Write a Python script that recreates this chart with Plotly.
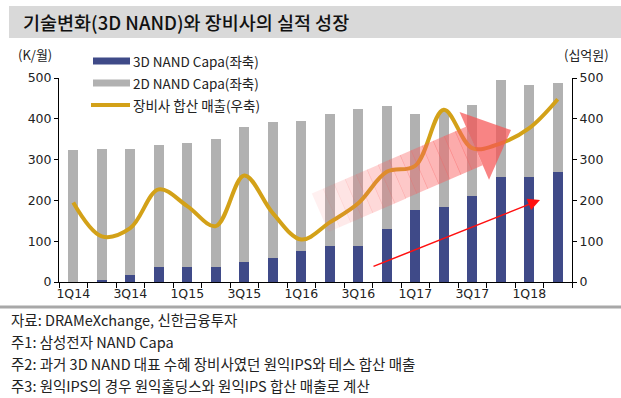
import math
import plotly.graph_objects as go

quarters = ["1Q14","2Q14","3Q14","4Q14","1Q15","2Q15","3Q15","4Q15",
            "1Q16","2Q16","3Q16","4Q16","1Q17","2Q17","3Q17","4Q17","1Q18","2Q18"]
tick_labels = ["1Q14","","3Q14","","1Q15","","3Q15","","1Q16","","3Q16","",
               "1Q17","","3Q17","","1Q18",""]
capa_3d = [0,5,18,38,38,38,49,59,77,88,88,130,176,184,211,258,258,270]
capa_2d = [323,321,308,299,302,313,331,332,317,323,337,301,235,236,224,238,224,218]
equip_sales = [195,112,132,227,186,137,261,169,104,146,193,270,285,422,328,340,377,448]

name_3d = "3D NAND Capa(좌축)"
name_2d = "2D NAND Capa(좌축)"
name_sales = "장비사 합산 매출(우축)"

W, H = 621, 398
L, R, T, B = 59, 572, 78, 282
def px(x): return (x - L) / (R - L)
def py(y): return (B - y) / (B - T)

KR = "Noto Sans CJK KR"
NUM = "DejaVu Sans"
C3D = "#3F4A88"
C2D = "#B1B1B1"
CLINE = "#D3A118"

fig = go.Figure()
fig.add_trace(go.Bar(x=quarters, y=capa_3d, name=name_3d, marker_color=C3D, marker_line_width=0))
fig.add_trace(go.Bar(x=quarters, y=capa_2d, name=name_2d, marker_color=C2D, marker_line_width=0))
fig.add_trace(go.Scatter(x=quarters, y=equip_sales, name=name_sales, yaxis="y2", mode="lines",
                         line=dict(color=CLINE, width=4, shape="spline", smoothing=1.0)))

shapes = []
annotations = []
# title band
shapes.append(dict(type="rect", xref="paper", yref="paper", x0=px(9), x1=px(621), y0=py(38), y1=py(6),
                   fillcolor="#D9D9D9", line_width=0, layer="below"))
annotations.append(dict(text="기술변화(3D NAND)와 장비사의 실적 성장", xref="paper", yref="paper",
                        x=px(21), y=py(22), xanchor="left", yanchor="middle", showarrow=False,
                        font=dict(family=KR, size=18.5, color="#111", weight=500)))
# footer line
shapes.append(dict(type="line", xref="paper", yref="paper", x0=px(0), x1=px(621), y0=py(307), y1=py(307),
                   line=dict(color="#A8A8A8", width=3)))
foot = ["자료: DRAMeXchange, 신한금융투자", "주1: 삼성전자 NAND Capa",
        "주2: 과거 3D NAND 대표 수혜 장비사였던 원익IPS와 테스 합산 매출",
        "주3: 원익IPS의 경우 원익홀딩스와 원익IPS 합산 매출로 계산"]
for i, t in enumerate(foot):
    annotations.append(dict(text=t, xref="paper", yref="paper", x=px(9), y=py(319 + 22 * i),
                            xanchor="left", yanchor="middle", showarrow=False,
                            font=dict(family=KR, size=14.5, color="#222")))
# axis titles
annotations.append(dict(text="(K/월)", xref="paper", yref="paper", x=px(35), y=py(55), showarrow=False,
                        xanchor="center", yanchor="middle", font=dict(family=KR, size=13, color="#222")))
annotations.append(dict(text="(십억원)", xref="paper", yref="paper", x=px(586), y=py(55), showarrow=False,
                        xanchor="center", yanchor="middle", font=dict(family=KR, size=13, color="#222")))
# manual legend
leg = [(name_3d, C3D, "rect", 61), (name_2d, C2D, "rect", 83), (name_sales, CLINE, "line", 105)]
for name, col, kind, yy in leg:
    if kind == "rect":
        shapes.append(dict(type="rect", xref="paper", yref="paper", x0=px(93), x1=px(130),
                           y0=py(yy + 3.5), y1=py(yy - 3.5), fillcolor=col, line_width=0))
    else:
        shapes.append(dict(type="line", xref="paper", yref="paper", x0=px(91), x1=px(130),
                           y0=py(yy), y1=py(yy), line=dict(color=col, width=4)))
    annotations.append(dict(text=name, xref="paper", yref="paper", x=px(131), y=py(yy),
                            xanchor="left", yanchor="middle", showarrow=False,
                            font=dict(family=KR, size=13.5, color="#222")))

# big translucent arrow (decoration)
tip = (511.0, 130.0)
ux, uy = 189.0, -82.0
n = math.hypot(ux, uy); ux, uy = ux / n, uy / n
nx, ny = -uy, ux
head_len, head_hw, shaft_hw, shaft_len = 40.0, 37.0, 21.0, 168.0
bx, by = tip[0] - head_len * ux, tip[1] - head_len * uy
N = 14
for k in range(N):
    s0 = shaft_len * (1 - k / N)
    s1 = max(shaft_len * (1 - (k + 1) / N) - 0.6, 0)
    ax0, ay0 = bx - s0 * ux, by - s0 * uy
    ax1, ay1 = bx - s1 * ux, by - s1 * uy
    pts = [(ax0 + shaft_hw * nx, ay0 + shaft_hw * ny), (ax1 + shaft_hw * nx, ay1 + shaft_hw * ny),
           (ax1 - shaft_hw * nx, ay1 - shaft_hw * ny), (ax0 - shaft_hw * nx, ay0 - shaft_hw * ny)]
    a = 0.06 + 0.5 * (k + 1) / N
    path = "M " + " L ".join(f"{px(x):.5f},{py(y):.5f}" for x, y in pts) + " Z"
    shapes.append(dict(type="path", xref="paper", yref="paper", path=path,
                       fillcolor=f"rgba(250,95,95,{a:.3f})", line_width=0, layer="above"))
hp = [(bx + head_hw * nx, by + head_hw * ny), tip, (bx - head_hw * nx, by - head_hw * ny)]
path = "M " + " L ".join(f"{px(x):.5f},{py(y):.5f}" for x, y in hp) + " Z"
shapes.append(dict(type="path", xref="paper", yref="paper", path=path,
                   fillcolor="rgba(245,85,85,0.72)", line_width=0, layer="above"))

# thin red arrow
annotations.append(dict(x=px(540), y=py(200), xref="paper", yref="paper", ax=372 - 540, ay=267 - 200,
                        axref="pixel", ayref="pixel", showarrow=True, arrowhead=2, arrowsize=1.6,
                        arrowwidth=1.5, arrowcolor="#FF1010", text=""))

tickfont = dict(family=NUM, size=12.5, color="#222")
fig.update_layout(
    width=W, height=H, margin=dict(l=L, r=W - R, t=T, b=H - B),
    paper_bgcolor="white", plot_bgcolor="white", showlegend=False,
    barmode="stack", bargap=0.64,
    xaxis=dict(type="category", tickvals=quarters, ticktext=tick_labels, tickson="boundaries",
               tickangle=0, ticks="outside", ticklen=5, tickcolor="black", showline=True,
               linecolor="black", linewidth=1, showgrid=False, tickfont=tickfont, range=[-0.5, 17.5]),
    yaxis=dict(range=[0, 500], tickvals=[0, 100, 200, 300, 400, 500], ticks="outside", ticklen=4,
               tickcolor="black", showline=True, linecolor="black", linewidth=1, showgrid=False,
               zeroline=False, tickfont=tickfont),
    yaxis2=dict(range=[0, 500], tickvals=[0, 100, 200, 300, 400, 500], overlaying="y", side="right",
                ticks="outside", ticklen=4, tickcolor="black", showline=True, linecolor="black",
                linewidth=1, showgrid=False, zeroline=False, tickfont=tickfont),
    shapes=shapes, annotations=annotations,
)
fig.write_html("out.html", config={"displayModeBar": False},
               post_script="document.body.style.margin='0';document.body.style.overflow='hidden';")
